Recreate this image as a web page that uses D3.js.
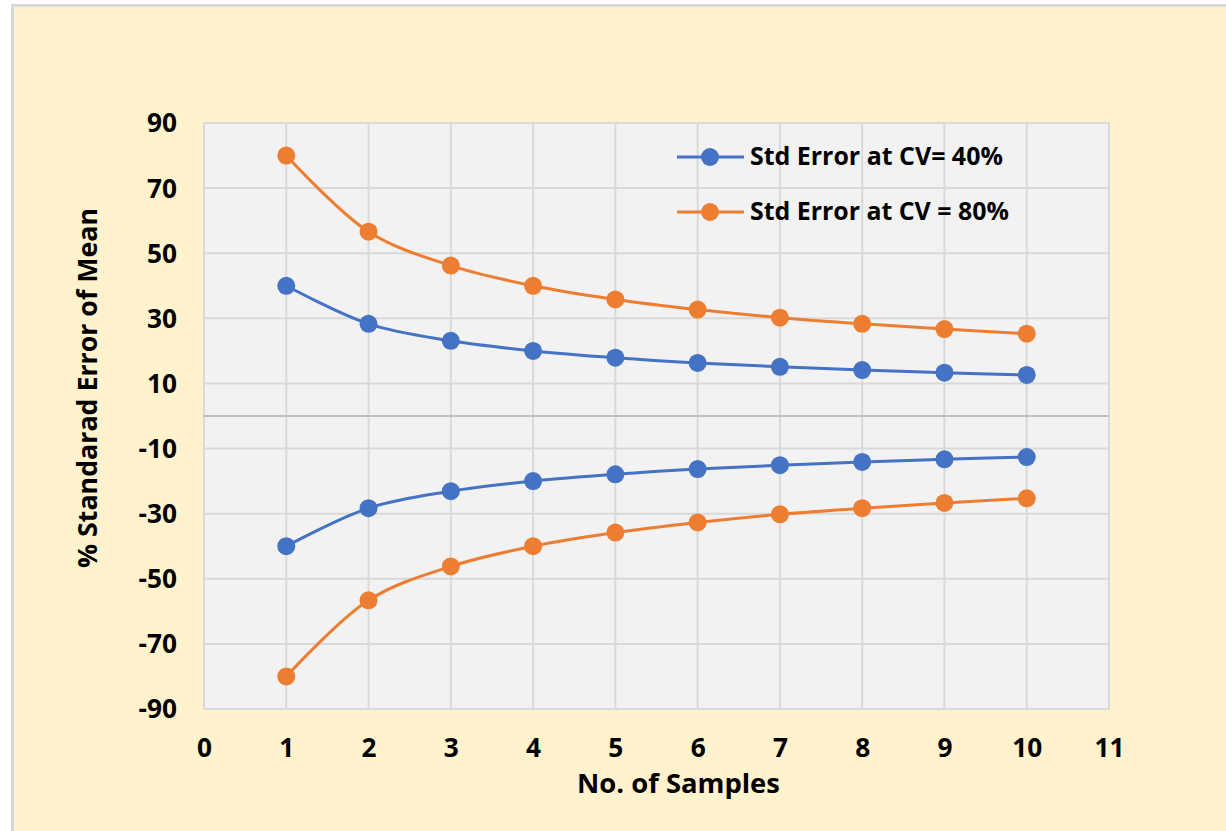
<!DOCTYPE html>
<html>
<head>
<meta charset="utf-8">
<script src="https://cdn.jsdelivr.net/npm/d3@7/dist/d3.min.js"></script>
<style>
  html, body { margin: 0; padding: 0; background: #ffffff; }
  svg { display: block; }
  text { font-family: "Open Sans", sans-serif; font-weight: 700; fill: #000; }
</style>
</head>
<body>
<svg id="chart" width="1226" height="831"></svg>
<script>
const samples = [1, 2, 3, 4, 5, 6, 7, 8, 9, 10];
const cv40Upper = [40, 28.3, 23.1, 20, 17.9, 16.3, 15.1, 14.1, 13.3, 12.6];
const cv40Lower = [-40, -28.3, -23.1, -20, -17.9, -16.3, -15.1, -14.1, -13.3, -12.6];
const cv80Upper = [80, 56.6, 46.2, 40, 35.8, 32.7, 30.2, 28.3, 26.7, 25.3];
const cv80Lower = [-80, -56.6, -46.2, -40, -35.8, -32.7, -30.2, -28.3, -26.7, -25.3];
const xTicks = [0, 1, 2, 3, 4, 5, 6, 7, 8, 9, 10, 11];
const yTicks = [-90, -70, -50, -30, -10, 10, 30, 50, 70, 90];
const seriesNames = ["Std Error at CV= 40%", "Std Error at CV = 80%"];
const seriesColors = ["#4472C4", "#ED7D31"];

const svg = d3.select("#chart");
const W = 1226, H = 831;

// fit a text element's font size so its rendered width equals target
function fitWidth(sel, target) {
  sel.attr("font-size", 20);
  const w = sel.node().getComputedTextLength();
  const fs = 20 * target / w;
  sel.attr("font-size", fs);
  return fs;
}

// chart background & border
svg.append("rect").attr("x", 12).attr("y", 5).attr("width", W - 12).attr("height", H - 5)
  .attr("fill", "#FFF2CC");
svg.append("path").attr("d", `M12.5,${H} V5.5 H${W}`).attr("fill", "none")
  .attr("stroke", "#D9D9D9").attr("stroke-width", 3);

const plot = { left: 204, top: 123, right: 1109, bottom: 709 };
const x = d3.scaleLinear().domain([0, 11]).range([plot.left, plot.right]);
const y = d3.scaleLinear().domain([-90, 90]).range([plot.bottom, plot.top]);

svg.append("rect").attr("x", plot.left).attr("y", plot.top)
  .attr("width", plot.right - plot.left).attr("height", plot.bottom - plot.top)
  .attr("fill", "#F2F2F2");

// gridlines
const grid = svg.append("g");
grid.selectAll("line.v").data(xTicks).join("line")
  .attr("x1", d => x(d)).attr("x2", d => x(d))
  .attr("y1", plot.top).attr("y2", plot.bottom)
  .attr("stroke", "#D9D9D9").attr("stroke-width", 2);
grid.selectAll("line.h").data(yTicks).join("line")
  .attr("x1", plot.left).attr("x2", plot.right)
  .attr("y1", d => y(d)).attr("y2", d => y(d))
  .attr("stroke", "#D9D9D9").attr("stroke-width", 2);
// zero axis line
svg.append("line").attr("x1", plot.left).attr("x2", plot.right)
  .attr("y1", y(0)).attr("y2", y(0)).attr("stroke", "#BFBFBF").attr("stroke-width", 2);

// tick font size fitted to the width of "90"
const probe = svg.append("text").text("90");
const tickFS = fitWidth(probe, 30);
probe.remove();

const yAxis = d3.axisLeft(y).tickValues(yTicks).tickSize(0).tickPadding(0).tickFormat(d => String(d));
const gy = svg.append("g").attr("transform", `translate(${plot.left - 27},0)`).call(yAxis);
gy.attr("font-family", null).attr("font-size", null);
gy.select(".domain").remove();
gy.selectAll("text").attr("font-size", tickFS).attr("fill", "#000").attr("dy", "0.34em");

const xAxis = d3.axisBottom(x).tickValues(xTicks).tickSize(0).tickPadding(0).tickFormat(d => String(d));
const gx = svg.append("g").attr("transform", `translate(0,${plot.bottom + 48})`).call(xAxis);
gx.attr("font-family", null).attr("font-size", null);
gx.select(".domain").remove();
gx.selectAll("text").attr("font-size", tickFS).attr("fill", "#000").attr("dy", 0);

// axis titles
const xt = svg.append("text").attr("x", 678.5).attr("y", 793).attr("text-anchor", "middle")
  .text("No. of Samples");
fitWidth(xt, 203);
const yt = svg.append("text").attr("transform", "translate(97,388) rotate(-90)").attr("text-anchor", "middle")
  .text("% Standarad Error of Mean");
fitWidth(yt, 360);

// series
const line = d3.line().x((d, i) => x(samples[i])).y(d => y(d)).curve(d3.curveCatmullRom.alpha(0.5));
const allSeries = [
  { vals: cv40Upper, c: 0 }, { vals: cv40Lower, c: 0 },
  { vals: cv80Upper, c: 1 }, { vals: cv80Lower, c: 1 }
];
const sg = svg.append("g");
allSeries.forEach(s => {
  sg.append("path").attr("d", line(s.vals)).attr("fill", "none")
    .attr("stroke", seriesColors[s.c]).attr("stroke-width", 3);
  sg.selectAll(null).data(s.vals).join("circle")
    .attr("cx", (d, i) => x(samples[i])).attr("cy", d => y(d)).attr("r", 9)
    .attr("fill", seriesColors[s.c]);
});

// legend
const legend = svg.append("g");
const legendWidths = [253, 259];
seriesNames.forEach((name, i) => {
  const ly = 157 + i * 55;
  legend.append("line").attr("x1", 677).attr("x2", 744).attr("y1", ly).attr("y2", ly)
    .attr("stroke", seriesColors[i]).attr("stroke-width", 3);
  legend.append("circle").attr("cx", 710).attr("cy", ly).attr("r", 9).attr("fill", seriesColors[i]);
  const t = legend.append("text").attr("x", 750).attr("y", ly + 8).text(name);
  fitWidth(t, legendWidths[i]);
});
</script>
</body>
</html>
